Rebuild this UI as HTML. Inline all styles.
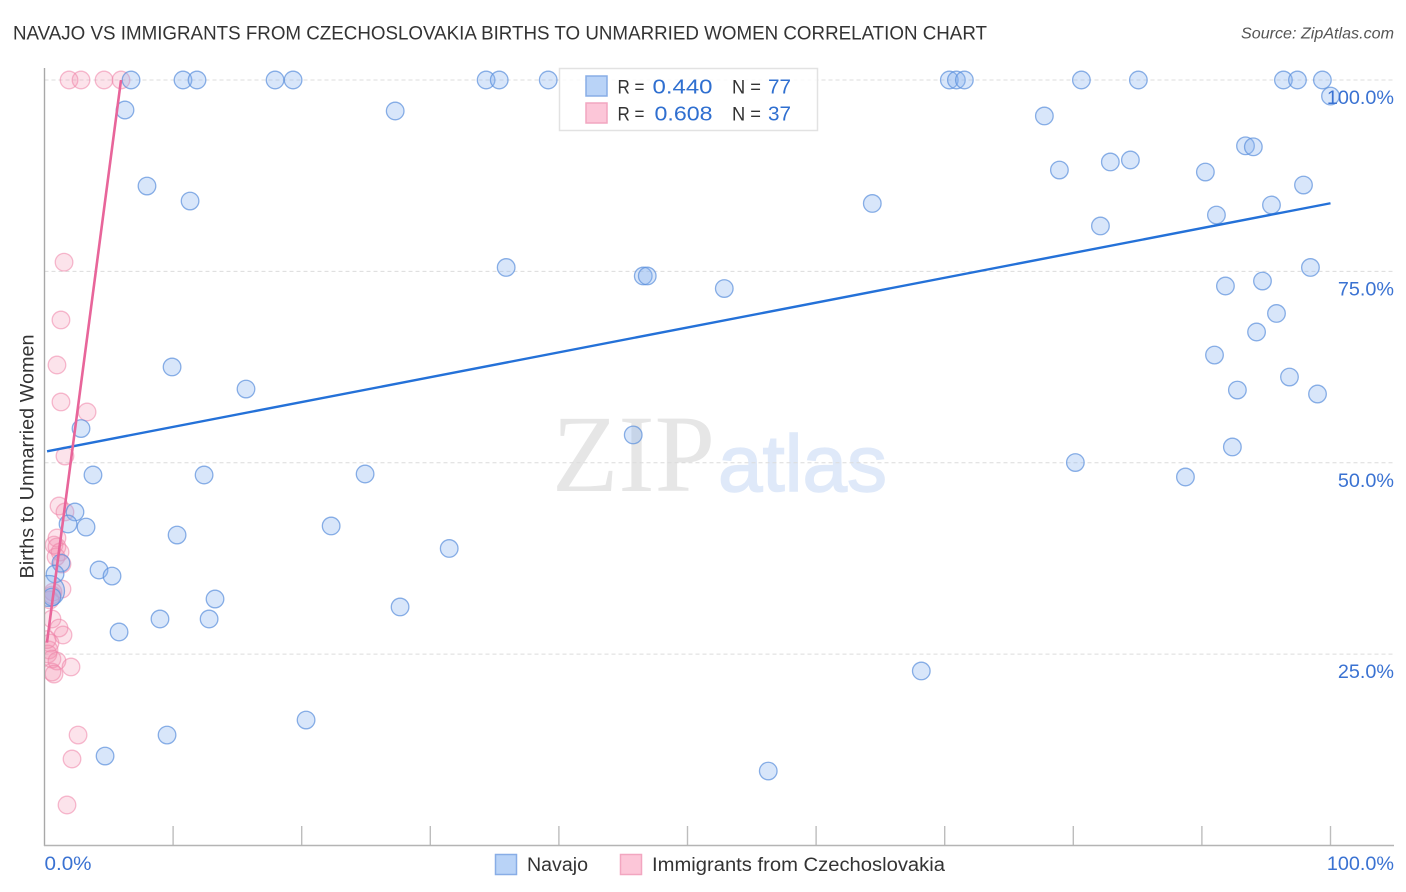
<!DOCTYPE html>
<html lang="en">
<head>
<meta charset="utf-8">
<title>Navajo vs Immigrants from Czechoslovakia Births to Unmarried Women Correlation Chart</title>
<style>
html,body{margin:0;padding:0;background:#fff;width:1406px;height:892px;overflow:hidden}
svg{display:block;font-family:"Liberation Sans",sans-serif}
</style>
</head>
<body>
<svg id="chart" xmlns="http://www.w3.org/2000/svg" width="1406" height="892" viewBox="0 0 1406 892">
  <defs>
    <clipPath id="plot-clip"><rect x="44.5" y="60" width="1350" height="786"/></clipPath>
  </defs>
  <text x="13" y="39.5" font-size="19.6" fill="#333" textLength="974" lengthAdjust="spacingAndGlyphs">NAVAJO VS IMMIGRANTS FROM CZECHOSLOVAKIA BIRTHS TO UNMARRIED WOMEN CORRELATION CHART</text>
  <text x="1241" y="38.5" font-size="15.6" font-style="italic" fill="#555" textLength="153" lengthAdjust="spacingAndGlyphs">Source: ZipAtlas.com</text>
  <text transform="translate(33.5,456.5) rotate(-90)" font-size="19.6" fill="#333" text-anchor="middle" textLength="244" lengthAdjust="spacingAndGlyphs">Births to Unmarried Women</text>
  <g id="watermark">
    <text x="552" y="491" font-family="'Liberation Serif',serif" font-size="110" fill="#e6e6e6" textLength="163" lengthAdjust="spacingAndGlyphs">ZIP</text>
    <text x="718" y="491" font-size="80" fill="#dfe9f9" stroke="#dfe9f9" stroke-width="1.5" textLength="169" lengthAdjust="spacingAndGlyphs">atlas</text>
  </g>
  <g id="grid"></g>
  <g clip-path="url(#plot-clip)">
    <g id="pink-points"></g>
    <g id="blue-points"></g>
  </g>
  <g id="trends"></g>
  <g id="axes"></g>
  <g id="y-labels"></g>
  <g id="x-labels"></g>

  <g>
    <rect x="559.5" y="68.5" width="258" height="62" fill="#fff" fill-opacity="0.85" stroke="#e2e2e2" stroke-width="1.5"/>
    <rect x="586" y="76" width="21" height="20" fill="#b9d3f7" stroke="#88ade6" stroke-width="1.5"/>
    <rect x="586" y="103" width="21" height="20" fill="#fcc6d8" stroke="#f2a6c0" stroke-width="1.5"/>
    <text x="617.5" y="93.5" font-size="19.6" fill="#333" textLength="27" lengthAdjust="spacingAndGlyphs">R =</text>
    <text x="652.5" y="93.5" font-size="20.5" fill="#2f6fd0" textLength="60" lengthAdjust="spacingAndGlyphs">0.440</text>
    <text x="732" y="93.5" font-size="19.6" fill="#333" textLength="29" lengthAdjust="spacingAndGlyphs">N =</text>
    <text x="768" y="93.5" font-size="20.5" fill="#2f6fd0" textLength="23" lengthAdjust="spacingAndGlyphs">77</text>
    <text x="617.5" y="120.5" font-size="19.6" fill="#333" textLength="27" lengthAdjust="spacingAndGlyphs">R =</text>
    <text x="654.5" y="120.5" font-size="20.5" fill="#2f6fd0" textLength="58" lengthAdjust="spacingAndGlyphs">0.608</text>
    <text x="732" y="120.5" font-size="19.6" fill="#333" textLength="29" lengthAdjust="spacingAndGlyphs">N =</text>
    <text x="768" y="120.5" font-size="20.5" fill="#2f6fd0" textLength="23" lengthAdjust="spacingAndGlyphs">37</text>
  </g>

  <g>
    <rect x="495.5" y="854.5" width="21" height="20" fill="#b9d3f7" stroke="#88ade6" stroke-width="1.5"/>
    <text x="527" y="871" font-size="19.6" fill="#333">Navajo</text>
    <rect x="620.5" y="854.5" width="21" height="20" fill="#fcc6d8" stroke="#f2a6c0" stroke-width="1.5"/>
    <text x="652" y="871" font-size="19.6" fill="#333" textLength="293" lengthAdjust="spacingAndGlyphs">Immigrants from Czechoslovakia</text>
  </g>
</svg>
<script>
const navajoX = [6.73,10.77,11.86,17.93,19.33,34.34,35.36,39.17,70.36,70.91,71.53,80.63,85.06,96.34,97.43,99.37,
  100,6.26,27.27,77.75,93.39,94.0,84.44,82.88,78.92,90.27,97.9,7.97,11.32,64.37,95.41,91.13,82.11,35.9,98.44,46.56,46.87,
  94.71,91.83,52.86,95.8,94.25,90.98,9.92,96.81,15.67,92.76,98.99,2.84,45.78,92.37,80.16,3.77,12.41,24.93,88.72,
  2.37,1.83,3.23,22.29,10.31,31.47,1.28,4.24,5.25,0.82,0.35,0.58,13.26,27.65,8.98,12.8,5.8,68.18,20.34,9.53,4.71,56.28];
const navajoY = [100,100,100,100,100,100,100,100,100,100,100,100,100,100,100,100,
  97.9,96.08,95.95,95.3,91.4,91.27,89.55,89.29,88.24,87.98,86.28,86.15,84.19,83.87,83.67,82.36,80.93,75.51,75.51,74.4,74.4,
  73.74,73.09,72.76,69.5,67.08,64.07,62.51,61.2,59.63,59.5,58.98,54.47,53.63,52.06,50.03,48.4,48.4,48.53,48.14,
  43.57,42.0,41.6,41.74,40.56,38.8,36.9,35.99,35.2,35.47,33.25,32.46,32.2,31.16,29.59,29.59,27.89,22.8,16.39,14.43,11.69,9.73];
const navajoWeight = [1,1,1,1,1,1,1,1,1,1,1,1,1,1,1,1,
  1,1,1,1,1,1,1,1,1,1,1,1,1,1,1,1,1,1,1,1,1,
  1,1,1,1,1,1,1,1,1,1,1,1,1,1,1,1,1,1,1,
  1,1,1,1,1,1,1,1,1,1,3.1,1,1,1,1,1,1,1,1,1,1,1];
const immigrantsX = [1.91,2.84,4.63,5.95,1.52,1.28,0.97,1.28,3.31,1.59,1.13,1.59,0.97,0.74,0.97,1.21,0.9,1.36,1.36,0.58,0.43,0.66,
  0.58,1.13,1.44,0.43,0.35,0.27,0.2,0.58,0.97,2.06,0.58,0.74,2.61,2.14,1.75];
const immigrantsY = [100,100,100,100,76.2,68.65,62.77,57.94,56.63,50.88,44.35,43.57,40.17,39.25,39.0,38.34,37.7,36.77,33.5,32.72,32.07,33.1,
  29.59,28.41,27.5,26.45,25.54,25.02,26.9,24.36,24.1,23.32,22.66,22.4,14.43,11.3,5.29];
const navajoTrendX = [0.2,100];
const navajoTrendY = [51.5,83.9];
const immigrantsTrendX = [0.19,5.95];
const immigrantsTrendY = [26.5,100];
const yTicks = [100,75,50,25];
const yTickLabels = ["100.0%","75.0%","50.0%","25.0%"];
const xTicks = [10,20,30,40,50,60,70,80,90,100];
const xEndTicks = [0,100];
const xEndLabels = ["0.0%","100.0%"];

const NS = "http://www.w3.org/2000/svg";
const sx = v => 44.5 + v * 12.86;
const sy = v => 845.5 - v * 7.655;
function make(tag, attrs, parent) {
  const el = document.createElementNS(NS, tag);
  for (const k in attrs) el.setAttribute(k, attrs[k]);
  parent.appendChild(el);
  return el;
}
const gridG = document.getElementById("grid");
const axesG = document.getElementById("axes");
const yLabelG = document.getElementById("y-labels");
const xLabelG = document.getElementById("x-labels");
const pinkG = document.getElementById("pink-points");
const blueG = document.getElementById("blue-points");
const trendG = document.getElementById("trends");

yTicks.forEach((t, i) => {
  const line = make("line", {x1: 44.5, x2: 1394, y1: sy(t), y2: sy(t), stroke: "#dcdcdc", "stroke-width": 1, "stroke-dasharray": "4 3"}, gridG);
  
  
  const label = make("text", {x: 1394, y: sy(t) + 24, "font-size": 19.8, fill: "#3a72d2", "text-anchor": "end"}, yLabelG);
  label.textContent = yTickLabels[i];
  
  
});

xTicks.forEach(t => {
  const tick = make("line", {x1: sx(t), x2: sx(t), y1: 826, y2: 845.5, stroke: "#bdbdbd", "stroke-width": 1.4}, axesG);
  
  
});
const yAxis = make("line", {x1: 44.5, x2: 44.5, y1: 68, y2: 846, stroke: "#a8a8a8", "stroke-width": 1.4}, axesG);


const xAxis = make("line", {x1: 44, x2: 1394, y1: 845.5, y2: 845.5, stroke: "#b4b4b4", "stroke-width": 1.4}, axesG);



xEndTicks.forEach((t, i) => {
  const label = make("text", {x: i === 0 ? sx(t) : 1394, y: 870, "font-size": 19.8, fill: "#3a72d2", "text-anchor": i === 0 ? "start" : "end"}, xLabelG);
  if (i === 0) label.setAttribute("textLength", "47");
  if (i === 0) label.setAttribute("lengthAdjust", "spacingAndGlyphs");
  label.textContent = xEndLabels[i];
  
  
});

immigrantsX.forEach((x, i) => {
  const c = make("circle", {cx: sx(x), cy: sy(immigrantsY[i]), r: 8.8, fill: "#f48fb1", "fill-opacity": 0.25, stroke: "#ef84a8", "stroke-opacity": 0.55, "stroke-width": 1.3}, pinkG);
  
  
});
navajoX.forEach((x, i) => {
  const c = make("circle", {cx: sx(x), cy: sy(navajoY[i]), r: 8.8 * Math.sqrt(navajoWeight[i]), fill: "#8ab4f0", "fill-opacity": 0.33, stroke: "#5a8edc", "stroke-opacity": 0.7, "stroke-width": 1.3}, blueG);
  
  
});

const blueLine = make("line", {x1: sx(navajoTrendX[0]), y1: sy(navajoTrendY[0]), x2: sx(navajoTrendX[1]), y2: sy(navajoTrendY[1]), stroke: "#2471d8", "stroke-width": 2.4}, trendG);


const pinkLine = make("line", {x1: sx(immigrantsTrendX[0]), y1: sy(immigrantsTrendY[0]), x2: sx(immigrantsTrendX[1]), y2: sy(immigrantsTrendY[1]), stroke: "#e8659a", "stroke-width": 2.6}, trendG);


</script>
</body>
</html>
